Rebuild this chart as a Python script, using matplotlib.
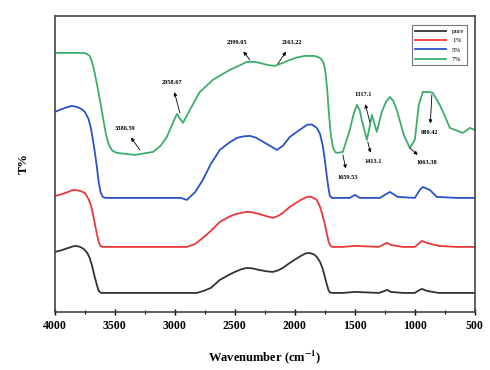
import matplotlib
matplotlib.use("Agg")
import matplotlib.pyplot as plt

# FTIR spectra, values (T% in arbitrary offset units)
wn_pure = [4000, 3950, 3900, 3850, 3820, 3790, 3760, 3730, 3710, 3690, 3670, 3650, 3635, 3615,
           3400, 3000, 2817, 2760, 2700, 2625, 2550, 2500, 2450, 2400, 2350, 2300, 2230, 2183,
           2140, 2100, 2042, 1990, 1950, 1910, 1880, 1840, 1817, 1790, 1770, 1750, 1735, 1720,
           1708, 1690, 1600, 1500, 1300, 1250, 1230, 1200, 1100, 1000, 960, 940, 900, 800,
           650, 500]
t_pure = [60, 61.5, 63.5, 65.5, 66, 65, 63, 59, 54, 46, 36, 27, 21, 19,
          19, 19, 19, 21, 24, 32, 37, 40, 42.5, 44, 43.5, 42, 40.5, 40,
          41.5, 44, 49, 53, 56, 58.5, 59, 57.5, 55, 50, 44, 35, 28, 22,
          19.5, 19, 19, 20, 19, 21, 22, 20, 19, 19, 22, 23, 21, 19,
          19, 19]

wn_1 = [4000, 3950, 3900, 3860, 3833, 3790, 3750, 3720, 3700, 3683, 3665, 3650, 3635, 3620,
        3600, 3400, 3000, 2900, 2830, 2767, 2700, 2625, 2550, 2500, 2450, 2400, 2350, 2300,
        2230, 2183, 2140, 2100, 2042, 1990, 1950, 1900, 1860, 1817, 1790, 1770, 1750, 1735,
        1720, 1708, 1690, 1600, 1500, 1300, 1250, 1230, 1200, 1100, 1000, 960, 940, 900,
        800, 650, 500]
t_1 = [116, 117.5, 119.5, 121.5, 122, 121, 119, 113, 107, 98, 87, 78, 70, 66,
       65, 65, 65, 65, 68, 74, 81, 90, 95, 97.5, 99, 100, 99.5, 98,
       95.5, 94, 96, 99, 105, 109, 112, 115, 115, 112, 105, 97, 88, 79,
       71, 67, 65, 65, 66, 65, 68, 69, 67, 65, 65, 69, 71, 69,
       66, 65, 65]

wn_5 = [4000, 3960, 3917, 3860, 3817, 3780, 3750, 3720, 3700, 3683, 3665, 3650, 3635, 3620,
        3600, 3580, 3400, 3208, 2950, 2900, 2830, 2767, 2700, 2625, 2550, 2483, 2430, 2375,
        2330, 2292, 2220, 2150, 2100, 2042, 1960, 1900, 1860, 1817, 1790, 1767, 1750, 1735,
        1720, 1708, 1690, 1625, 1542, 1500, 1458, 1292, 1250, 1208, 1142, 1000, 958, 933,
        875, 817, 650, 500]
t_5 = [200, 202, 204, 206, 205, 203, 200, 193, 184, 172, 158, 145, 130, 120,
       115, 114, 114, 114, 114, 112, 120, 132, 148, 162, 169, 174, 175.5, 176,
       174.5, 172, 167, 162, 166, 175, 182, 187, 187.5, 184, 178, 166, 152, 137,
       124, 116, 114, 114, 114, 117, 114, 114, 117, 120, 115, 114, 122, 125,
       122, 115, 114, 114]

wn_7 = [4000, 3800, 3760, 3733, 3710, 3690, 3670, 3650, 3625, 3600, 3575, 3550, 3520, 3483,
        3333, 3183, 3120, 3067, 3020, 2983, 2933, 2875, 2792, 2683, 2600, 2542, 2470, 2400,
        2340, 2292, 2230, 2167, 2100, 2042, 1980, 1917, 1870, 1840, 1808, 1780, 1760, 1745,
        1730, 1715, 1700, 1683, 1665, 1650, 1600, 1542, 1510, 1483, 1460, 1442, 1400, 1380,
        1358, 1317, 1275, 1240, 1208, 1180, 1150, 1092, 1042, 1000, 967, 933, 890, 850,
        792, 750, 708, 600, 542, 500]
t_7 = [259, 259, 259, 258, 256, 250, 240, 228, 212, 195, 178, 167, 161, 159,
       157, 160, 166, 175, 188, 198, 189, 202, 220, 232, 238, 242, 246, 250,
       250, 249, 247, 246, 249, 252, 254.5, 256, 256, 256, 255, 253, 249, 240,
       222, 197, 177, 165, 160, 159, 160, 182, 198, 207, 202, 192, 172, 183,
       197, 180, 200, 210, 215, 211, 202, 177, 164, 172, 207, 220, 220, 219,
       207, 196, 184, 179, 184, 182]

labels = ["pure", "1%", "5%", "7%"]
colors = ["#333333", "#e8383a", "#2a52c9", "#3cae6c"]

# peak labels: text, text position, curve position
peaks = [
    ("3386.59", (3417, 183), (3292, 162)),
    ("2958.67", (3025, 229), (2958, 199)),
    ("2399.05", (2483, 269), (2375, 252)),
    ("2163.22", (2025, 269), (2142, 248)),
    ("1317.1", (1433, 217), (1375, 190)),
    ("1413.1", (1350, 150), (1392, 170)),
    ("1659.53", (1558, 134), (1600, 157)),
    ("1063.38", (900, 149), (1042, 164)),
    ("880.42", (875, 179), (858, 217)),
]

plt.rcParams["font.family"] = ["Liberation Serif", "DejaVu Serif"]
plt.rcParams["mathtext.fontset"] = "stix"

fig = plt.figure(figsize=(4.9, 3.7), dpi=100)
ax = fig.add_axes([0.112, 0.157, 0.857, 0.8])

series = [(wn_pure, t_pure), (wn_1, t_1), (wn_5, t_5), (wn_7, t_7)]
for (x, y), lab, c in zip(series, labels, colors):
    ax.plot(x, y, color=c, lw=1.3, label=lab)

for txt, tpos, cpos in peaks:
    ax.annotate(txt, xy=cpos, xytext=tpos, fontsize=4.5, fontweight="bold",
                ha="center", va="center",
                arrowprops=dict(arrowstyle="<|-", color="black", lw=0.6,
                                mutation_scale=5, shrinkA=3, shrinkB=0))

ax.set_xlim(4000, 500)
ax.set_ylim(0, 296)
ax.set_xticks([4000, 3500, 3000, 2500, 2000, 1500, 1000, 500])
ax.set_xticks([3750, 3250, 2750, 2250, 1750, 1250, 750], minor=True)
ax.tick_params(axis="x", which="major", direction="inout", length=5, width=1, labelsize=8.5, pad=3)
ax.tick_params(axis="x", which="minor", direction="inout", length=3, width=0.8)
ax.set_yticks([])
for lbl in ax.get_xticklabels():
    lbl.set_fontweight("bold")
for s in ax.spines.values():
    s.set_color("#444444")
    s.set_linewidth(1.2)

ax.set_xlabel("Wavenumber (cm$^{\\mathbf{-1}}$)", fontsize=9, fontweight="bold", labelpad=12)
ax.set_ylabel("T%", fontsize=9, fontweight="bold", labelpad=18)

leg = ax.legend(loc="upper right", fontsize=5, frameon=True, fancybox=False,
                edgecolor="#555555", handlelength=4.5, borderpad=0.4, labelspacing=0.5,
                bbox_to_anchor=(0.99, 0.98))
leg.get_frame().set_linewidth(0.8)

fig.savefig("out.png", dpi=100)
